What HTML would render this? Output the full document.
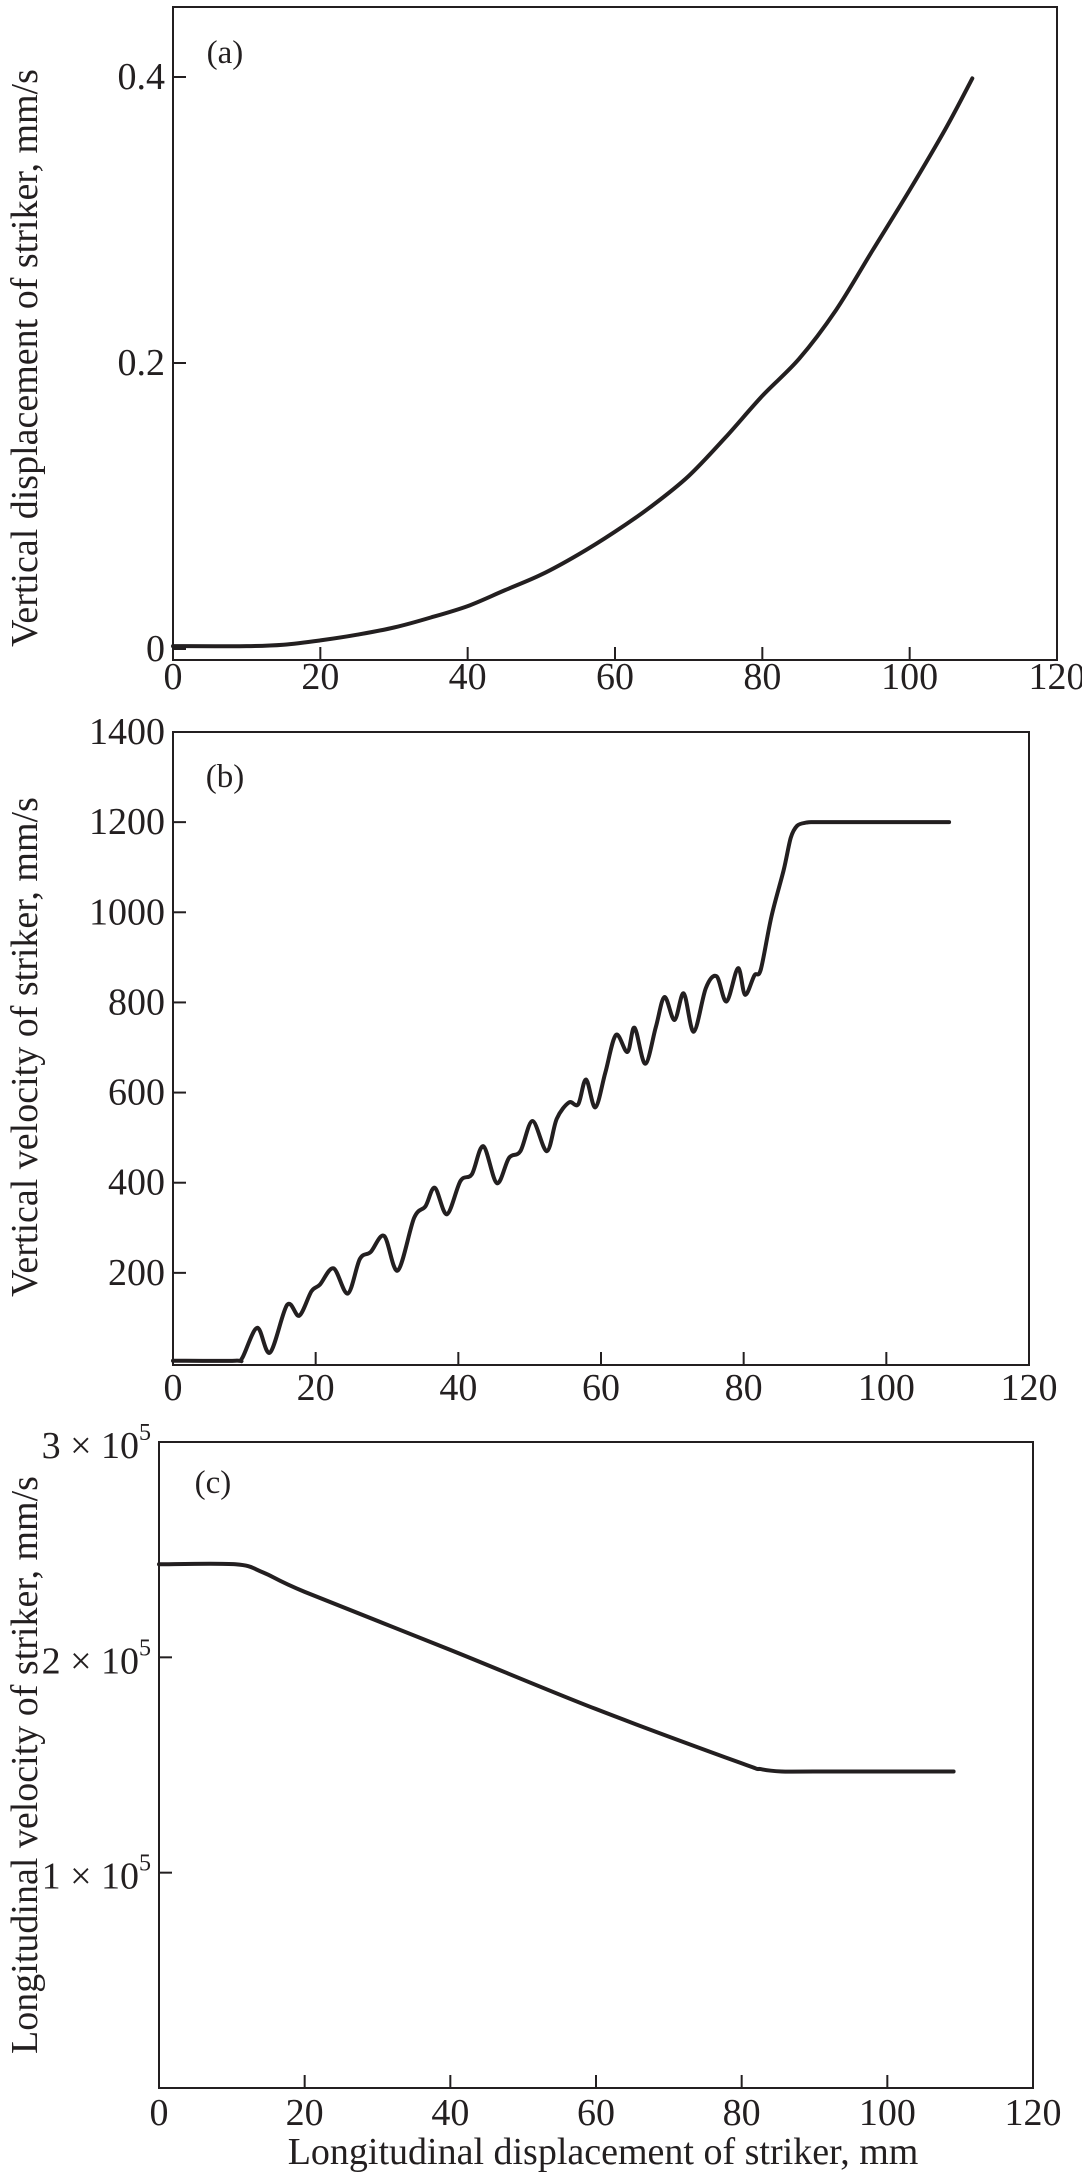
<!DOCTYPE html>
<html><head><meta charset="utf-8">
<style>
html,body{margin:0;padding:0;background:#fff;}
svg{display:block;}
text{font-family:"Liberation Serif",serif;fill:#231f20;}
</style></head>
<body>
<svg id="chart" width="1082" height="2176" viewBox="0 0 1082 2176" xmlns="http://www.w3.org/2000/svg"></svg>
<script>
// Panel (a) data
const aX = [0, 10, 15, 20, 25, 30, 35, 40, 45, 50, 55, 60, 65, 70, 75, 80, 85, 90, 95, 100, 105, 108.5];
const aY = [0.002, 0.002, 0.003, 0.006, 0.01, 0.015, 0.022, 0.03, 0.041, 0.052, 0.066, 0.082, 0.1, 0.121, 0.148, 0.177, 0.203, 0.237, 0.279, 0.321, 0.365, 0.399];
const aYTicks = [0, 0.2, 0.4];
const aYTickLabels = ["0", "0.2", "0.4"];
// Panel (b) data
const bX = [0, 8.7, 9.7, 11.8, 13.6, 16, 17.7, 19.4, 20.6, 22.5, 24.5, 26.2, 27.7, 29.6, 31.5, 33.8, 35.4, 36.7, 38.4, 40.3, 41.9, 43.5, 45.4, 47.1, 48.7, 50.4, 52.4, 53.8, 55.5, 56.8, 57.9, 59.2, 60.6, 62.1, 63.7, 64.7, 66.2, 67.7, 68.9, 70.3, 71.6, 73.0, 74.7, 76.2, 77.6, 79.2, 80.2, 81.5, 82.4, 83.9, 85.6, 86.6, 87.5, 88.8, 90, 95, 108.8];
const bY = [5, 5, 11, 78, 23, 129, 105, 159, 174, 210, 154, 231, 246, 282, 205, 322, 348, 389, 330, 404, 419, 481, 399, 455, 470, 537, 470, 542, 578, 574, 629, 567, 644, 728, 690, 744, 664, 746, 812, 761, 820, 735, 832, 858, 802, 876, 817, 860, 873, 991, 1093, 1165, 1192, 1199, 1200, 1200, 1200];
const bYTicks = [200, 400, 600, 800, 1000, 1200, 1400];
const bYTickLabels = ["200", "400", "600", "800", "1000", "1200", "1400"];
// Panel (c) data
const cX = [0, 10.5, 14.3, 20, 39.9, 59.9, 79.8, 82.6, 85.5, 90, 109.1];
const cY = [243200, 243200, 239400, 230400, 203600, 176100, 151000, 148100, 147000, 147000, 147000];
const cYTicks = [100000, 200000, 300000];
const cYTickLabels = ["1", "2", "3"];
const xTicks = [0, 20, 40, 60, 80, 100, 120];
const xTickLabels = ["0", "20", "40", "60", "80", "100", "120"];

const NS = "http://www.w3.org/2000/svg";
const svg = document.getElementById("chart");
function el(tag, attrs, parent) {
  const e = document.createElementNS(NS, tag);
  for (const k in attrs) e.setAttribute(k, attrs[k]);
  (parent || svg).appendChild(e);
  return e;
}
function smoothPath(pts) {
  let d = "M" + pts[0][0].toFixed(1) + "," + pts[0][1].toFixed(1);
  for (let i = 0; i < pts.length - 1; i++) {
    const p0 = pts[Math.max(0, i - 1)], p1 = pts[i], p2 = pts[i + 1], p3 = pts[Math.min(pts.length - 1, i + 2)];
    const t = 0.16;
    const c1x = p1[0] + (p2[0] - p0[0]) * t, c1y = p1[1] + (p2[1] - p0[1]) * t;
    const c2x = p2[0] - (p3[0] - p1[0]) * t, c2y = p2[1] - (p3[1] - p1[1]) * t;
    d += "C" + c1x.toFixed(1) + "," + c1y.toFixed(1) + " " + c2x.toFixed(1) + "," + c2y.toFixed(1) + " " + p2[0].toFixed(1) + "," + p2[1].toFixed(1);
  }
  return d;
}

function panel(cfg) {
  const g = el("g", {});
  
  
  const xs = v => cfg.L + (v - 0) / 120 * (cfg.R - cfg.L);
  const ys = v => cfg.y0 - (v - cfg.ymin) / (cfg.ymax - cfg.ymin) * (cfg.y0 - cfg.yTop);
  const frame = el("rect", {x: cfg.L, y: cfg.T, width: cfg.R - cfg.L, height: cfg.B - cfg.T, fill: "none", stroke: "#231f20", "stroke-width": 2}, g);
  
  
  xTicks.forEach((v, i) => {
    const x = xs(v);
    if (i > 0 && i < xTicks.length - 1) {
      const t = el("line", {x1: x, x2: x, y1: cfg.B, y2: cfg.B - 13, stroke: "#231f20", "stroke-width": 2}, g);
      
      
    }
    const lb = el("text", {x: x, y: cfg.xLabY, "font-size": 38, "text-anchor": "middle", "dominant-baseline": "central"}, g);
    lb.textContent = xTickLabels[i];
    
    
  });
  cfg.yTicks.forEach((v, i) => {
    const y = ys(v);
    if (cfg.tickMarks(v)) {
      const t = el("line", {x1: cfg.L, x2: cfg.L + 13, y1: y, y2: y, stroke: "#231f20", "stroke-width": 2}, g);
      
      
    }
    const lb = el("text", {x: cfg.L - 8, y: y, "font-size": 38, "text-anchor": "end", "dominant-baseline": "central"}, g);
    if (cfg.sci) {
      lb.textContent = cfg.yLabels[i] + " \u00d7 10";
      const sup = el("tspan", {"font-size": 24, dy: -13}, lb);
      sup.textContent = "5";
      lb.setAttribute("y", y + 4);
    } else {
      lb.textContent = cfg.yLabels[i];
    }
    
    
  });
  const yt = el("text", {x: 0, y: 0, "font-size": 38, "text-anchor": "middle", "dominant-baseline": "central", transform: "translate(25," + cfg.titleY + ") rotate(-90)"}, g);
  yt.textContent = cfg.yTitle;
  
  
  const pl = el("text", {x: cfg.tagX, y: cfg.tagY, "font-size": 33, "text-anchor": "middle", "dominant-baseline": "central"}, g);
  pl.textContent = cfg.tag;
  
  
  const pts = cfg.xData.map((v, i) => [xs(v), ys(cfg.yData[i])]);
  const path = el("path", {d: smoothPath(pts), fill: "none", stroke: "#231f20", "stroke-width": 4, "stroke-linejoin": "round", "stroke-linecap": "round"}, g);
  
  
}

panel({name: "panel-a-vertical-displacement", L: 173, R: 1057, T: 7, B: 660, y0: 649, yTop: 77, ymin: 0, ymax: 0.4,
  yTicks: aYTicks, yLabels: aYTickLabels, tickMarks: v => true, xLabY: 677,
  yTitle: "Vertical displacement of striker, mm/s", titleY: 358, tag: "(a)", tagX: 225, tagY: 53,
  xData: aX, yData: aY});
panel({name: "panel-b-vertical-velocity", L: 173, R: 1029, T: 732, B: 1365, y0: 1363, yTop: 732, ymin: 0, ymax: 1400,
  yTicks: bYTicks, yLabels: bYTickLabels, tickMarks: v => v < 1400, xLabY: 1388,
  yTitle: "Vertical velocity of striker, mm/s", titleY: 1047, tag: "(b)", tagX: 225, tagY: 777,
  xData: bX, yData: bY});
panel({name: "panel-c-longitudinal-velocity", L: 159, R: 1033, T: 1442, B: 2088, y0: 2088, yTop: 1442, ymin: 0, ymax: 300000,
  yTicks: cYTicks, yLabels: cYTickLabels, tickMarks: v => v < 300000, sci: true, xLabY: 2113,
  yTitle: "Longitudinal velocity of striker, mm/s", titleY: 1765, tag: "(c)", tagX: 213, tagY: 1483,
  xData: cX, yData: cY});

const xt = el("text", {x: 603, y: 2152, "font-size": 38, "text-anchor": "middle", "dominant-baseline": "central"});
xt.textContent = "Longitudinal displacement of striker, mm";


</script>
</body></html>
